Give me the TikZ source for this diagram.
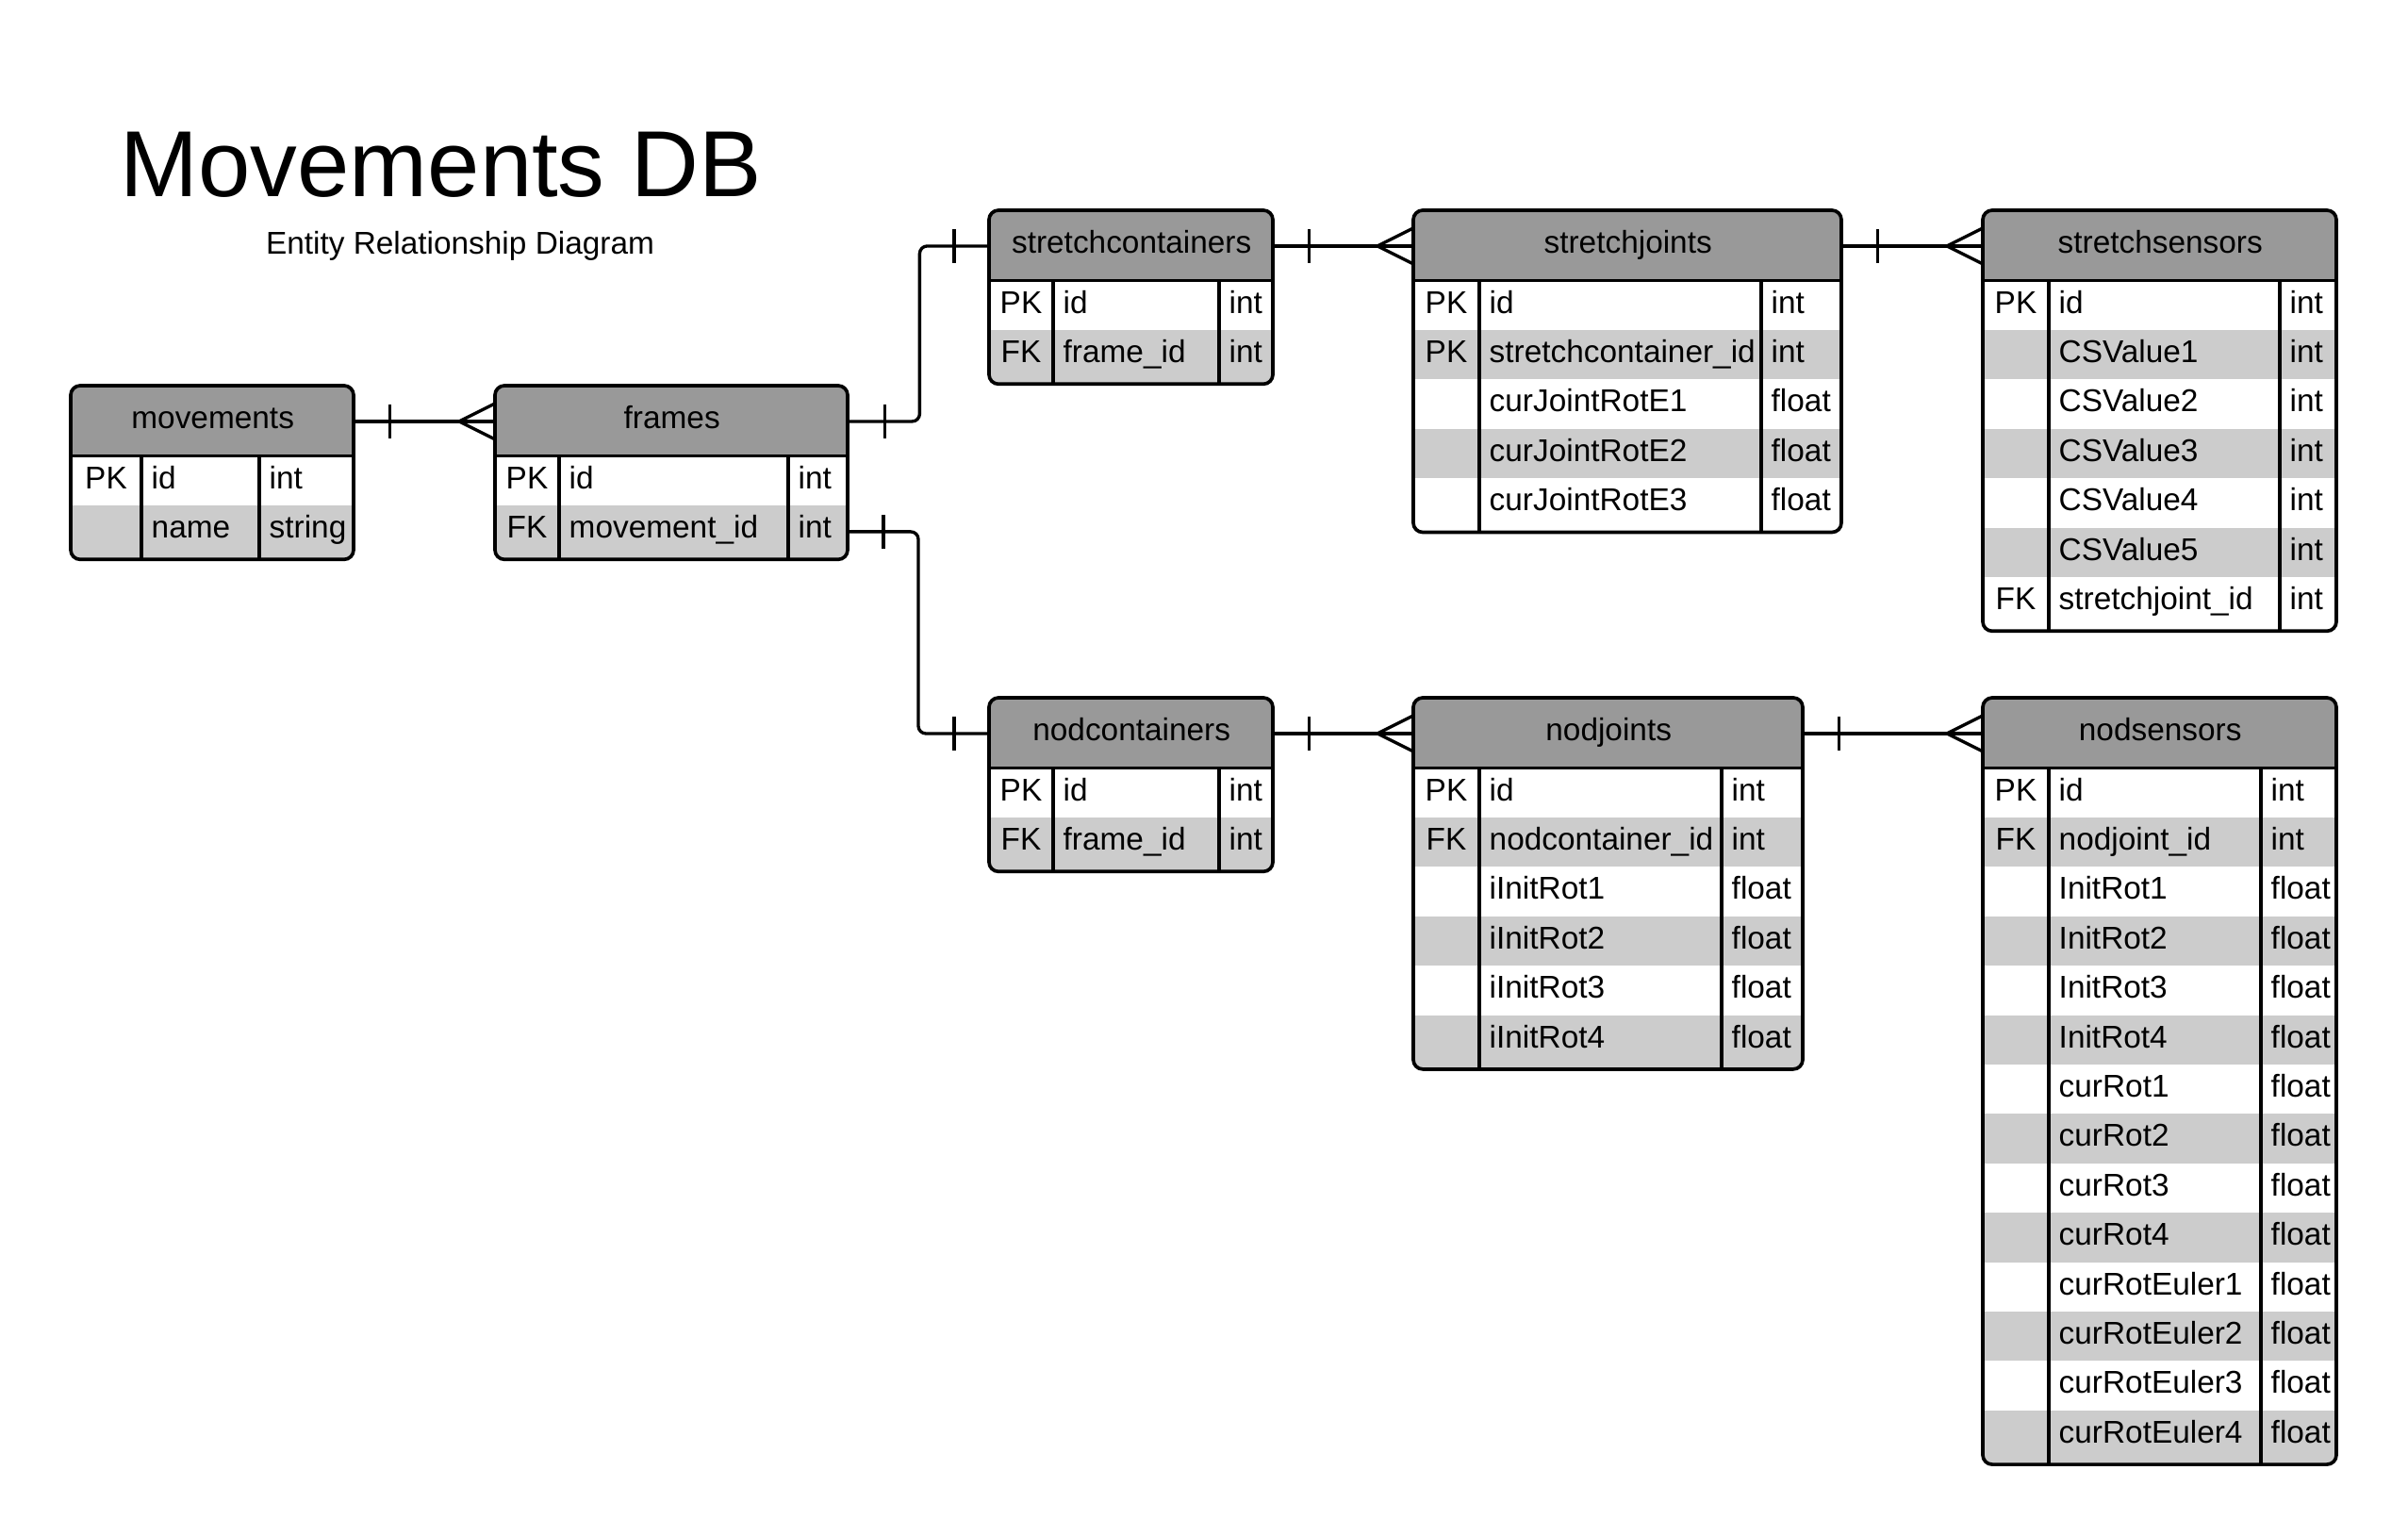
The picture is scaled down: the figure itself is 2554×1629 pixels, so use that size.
\documentclass[tikz,border=0pt]{standalone}
\usepackage{fontspec}
\setmainfont{Liberation Sans}
\usetikzlibrary{calc}
\definecolor{hdrgray}{HTML}{999999}
\definecolor{rowgray}{HTML}{CCCCCC}
\tikzset{
  boxline/.style={line width=1.05pt, black},
  conn/.style={line width=0.95pt, black},
  hdrnode/.style={inner sep=0pt, anchor=north west, text height=2.2mm, text depth=0.6mm, font=\fontsize{9.5pt}{11pt}\selectfont},
  celltext/.style={inner sep=0pt, font=\fontsize{9.5pt}{11pt}\selectfont},
}
% #1 name, #2 left, #3 right, #4 top, #5 key divider, #6 type divider, #7 title, #8 rows, #9 row list
\newcommand\ertab[9]{%
  \pgfmathsetmacro\ERhb{#4+74.5}%
  \pgfmathsetmacro\ERbt{\ERhb+#8*52.4+5}%
  \pgfmathsetmacro\ERw{(#3-#2)/10}%
  \begin{scope}
    \clip[rounded corners=1mm] (#2,#4) rectangle (#3,\ERbt);
    \fill[white] (#2,#4) rectangle (#3,\ERbt);
    \fill[hdrgray] (#2,#4) rectangle (#3,\ERhb);
    \foreach \kk/\ff/\ty [count=\i] in {#9} {
      \pgfmathsetmacro\ERrt{\ERhb+(\i-1)*52.4}
      \pgfmathsetmacro\ERrb{\i==#8 ? \ERbt : \ERrt+52.4}
      \ifodd\i\else\fill[rowgray] (#2,\ERrt) rectangle (#3,\ERrb);\fi
    }
  \end{scope}
  \node[hdrnode, minimum width=\ERw mm, minimum height=7.45mm] (#1) at (#2,#4) {#7};
  \draw[boxline] (#2,\ERhb) -- (#3,\ERhb);
  \draw[boxline] (#5,\ERhb) -- (#5,\ERbt);
  \draw[boxline] (#6,\ERhb) -- (#6,\ERbt);
  \draw[boxline, rounded corners=1mm] (#2,#4) rectangle (#3,\ERbt);
  \foreach \kk/\ff/\ty [count=\i] in {#9} {
    \pgfmathsetmacro\ERrt{\ERhb+(\i-1)*52.4}
    \node[celltext, anchor=base] (#1-k\i) at ({(#2+#5)/2}, \ERrt+34.5) {\kk};
    \node[celltext, anchor=base west] (#1-f\i) at (#5+10, \ERrt+34.5) {\ff};
    \node[celltext, anchor=base west] (#1-t\i) at (#6+10, \ERrt+34.5) {\ty};
    \coordinate (#1-r\i) at (#3, \ERrt+28);
  }
}
\newcommand\onemany[2]{%
  \draw[conn] (#1) -- (#2);
  \draw[conn] ($(#1)+(37,-18)$) -- ($(#1)+(37,18)$);
  \draw[conn] ($(#2)+(0,-19)$) -- ($(#2)+(-38,0)$) -- ($(#2)+(0,19)$);
}
\newcommand\oneone[2]{%
  \draw[conn, rounded corners=0.8mm] (#1) -- ++(75,0) |- (#2);
  \draw[conn] ($(#1)+(38,-18)$) -- ($(#1)+(38,18)$);
  \draw[conn] ($(#2)+(-37,-18)$) -- ($(#2)+(-37,18)$);
}
\begin{document}
\begin{tikzpicture}[x=0.1mm, y=-0.1mm]
\useasboundingbox (0,0) rectangle (2554,1629);
\fill[white] (0,0) rectangle (2554,1629);

\node[anchor=base west, inner sep=0pt, font=\fontsize{28.3pt}{32pt}\selectfont] (title) at (127,208) {Movements DB};
\node[anchor=base, inner sep=0pt, font=\fontsize{9.5pt}{11pt}\selectfont] (subtitle) at (488,269) {Entity Relationship Diagram};

\ertab{movements}{75}{375}{409}{150}{275}{movements}{2}{PK/id/int, {}/name/string}
\ertab{frames}{525}{899}{409}{593}{836}{frames}{2}{PK/id/int, FK/movement\_id/int}
\ertab{stretchcontainers}{1049}{1350}{223}{1117}{1293}{stretchcontainers}{2}{PK/id/int, FK/frame\_id/int}
\ertab{stretchjoints}{1499}{1953}{223}{1569}{1868}{stretchjoints}{5}{PK/id/int, PK/stretchcontainer\_id/int, {}/curJointRotE1/float, {}/curJointRotE2/float, {}/curJointRotE3/float}
\ertab{stretchsensors}{2103}{2478}{223}{2173}{2418}{stretchsensors}{7}{PK/id/int, {}/CSValue1/int, {}/CSValue2/int, {}/CSValue3/int, {}/CSValue4/int, {}/CSValue5/int, FK/stretchjoint\_id/int}
\ertab{nodcontainers}{1049}{1350}{740}{1117}{1293}{nodcontainers}{2}{PK/id/int, FK/frame\_id/int}
\ertab{nodjoints}{1499}{1912}{740}{1569}{1826}{nodjoints}{6}{PK/id/int, FK/nodcontainer\_id/int, {}/iInitRot1/float, {}/iInitRot2/float, {}/iInitRot3/float, {}/iInitRot4/float}
\ertab{nodsensors}{2103}{2478}{740}{2173}{2398}{nodsensors}{14}{PK/id/int, FK/nodjoint\_id/int, {}/InitRot1/float, {}/InitRot2/float, {}/InitRot3/float, {}/InitRot4/float, {}/curRot1/float, {}/curRot2/float, {}/curRot3/float, {}/curRot4/float, {}/curRotEuler1/float, {}/curRotEuler2/float, {}/curRotEuler3/float, {}/curRotEuler4/float}

\onemany{movements.east}{frames.west}
\onemany{stretchcontainers.east}{stretchjoints.west}
\onemany{stretchjoints.east}{stretchsensors.west}
\onemany{nodcontainers.east}{nodjoints.west}
\onemany{nodjoints.east}{nodsensors.west}
\oneone{frames.east}{stretchcontainers.west}
\oneone{frames-r2}{nodcontainers.west}
\end{tikzpicture}
\end{document}
